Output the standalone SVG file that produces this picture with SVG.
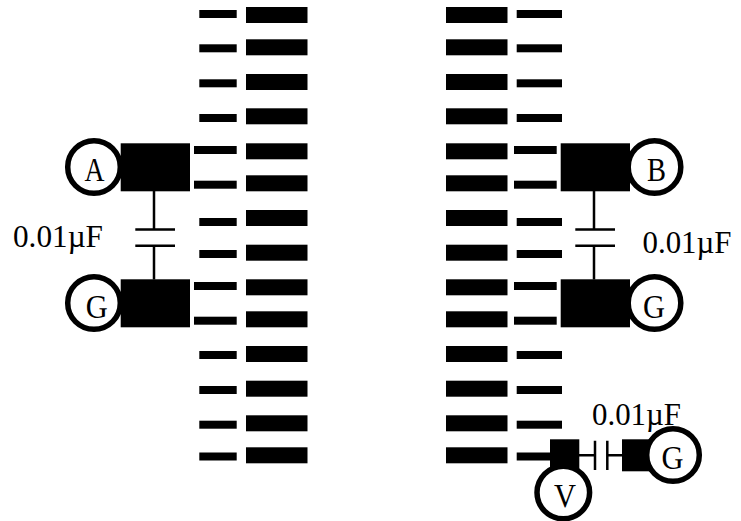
<svg xmlns="http://www.w3.org/2000/svg" width="741" height="521" viewBox="0 0 741 521">
<style>
.p{fill:#000}
.c{fill:#fff;stroke:#000;stroke-width:5.5}
.w{stroke:#000;stroke-width:2.5;fill:none}
.t{font-family:"Liberation Serif",serif;font-size:32.5px;fill:#000}
.l{text-anchor:middle;font-size:34px}
</style>
<rect width="741" height="521" fill="#fff"/>
<g id="left-big-pads" class="p">
<rect x="246" y="7" width="61.5" height="16"/><rect x="246" y="39.3" width="61.5" height="16"/><rect x="246" y="74" width="61.5" height="16"/><rect x="246" y="108.3" width="61.5" height="16"/><rect x="246" y="143.3" width="61.5" height="16"/><rect x="246" y="175.3" width="61.5" height="16"/><rect x="246" y="210" width="61.5" height="16"/><rect x="246" y="244.7" width="61.5" height="16"/><rect x="246" y="279.3" width="61.5" height="16"/><rect x="246" y="311.3" width="61.5" height="16"/><rect x="246" y="346" width="61.5" height="16"/><rect x="246" y="380.7" width="61.5" height="16"/><rect x="246" y="415.3" width="61.5" height="16"/><rect x="246" y="447.3" width="61.5" height="16"/>
</g>
<g id="left-small-pads" class="p">
<rect x="199.3" y="10" width="37.4" height="8"/><rect x="199.3" y="44.3" width="37.4" height="8"/><rect x="199.3" y="79.3" width="37.4" height="8"/><rect x="199.3" y="114" width="37.4" height="8"/><rect x="194" y="146" width="42.7" height="8"/><rect x="194" y="180.7" width="42.7" height="8"/><rect x="199.3" y="218" width="37.4" height="8"/><rect x="199.3" y="250" width="37.4" height="8"/><rect x="194" y="282" width="42.7" height="8"/><rect x="194" y="316.7" width="42.7" height="8"/><rect x="199.3" y="351" width="37.4" height="8"/><rect x="199.3" y="386" width="37.4" height="8"/><rect x="199.3" y="420.7" width="37.4" height="8"/><rect x="199.3" y="452.5" width="37.4" height="8"/>
</g>
<g id="right-big-pads" class="p">
<rect x="446" y="7" width="61.5" height="16"/><rect x="446" y="39.3" width="61.5" height="16"/><rect x="446" y="74" width="61.5" height="16"/><rect x="446" y="108.3" width="61.5" height="16"/><rect x="446" y="143.3" width="61.5" height="16"/><rect x="446" y="175.3" width="61.5" height="16"/><rect x="446" y="210" width="61.5" height="16"/><rect x="446" y="244.7" width="61.5" height="16"/><rect x="446" y="279.3" width="61.5" height="16"/><rect x="446" y="311.3" width="61.5" height="16"/><rect x="446" y="346" width="61.5" height="16"/><rect x="446" y="380.7" width="61.5" height="16"/><rect x="446" y="415.3" width="61.5" height="16"/><rect x="446" y="447.3" width="61.5" height="16"/>
</g>
<g id="right-small-pads" class="p">
<rect x="516.7" y="10" width="45.3" height="8"/><rect x="516.7" y="44.3" width="45.3" height="8"/><rect x="516.7" y="79.3" width="45.3" height="8"/><rect x="516.7" y="114" width="45.3" height="8"/><rect x="514" y="146" width="42.7" height="8"/><rect x="514" y="180.7" width="42.7" height="8"/><rect x="516.7" y="218" width="45.3" height="8"/><rect x="516.7" y="250" width="45.3" height="8"/><rect x="514" y="282" width="42.7" height="8"/><rect x="514" y="316.7" width="42.7" height="8"/><rect x="516.7" y="351" width="45.3" height="8"/><rect x="516.7" y="386" width="45.3" height="8"/><rect x="516.7" y="420.7" width="45.3" height="8"/><rect x="516.7" y="452.5" width="36" height="8"/>
</g>
<g id="connectors" class="w">
<path d="M154 191V229.5M135.3 229.5H175M135.3 245.7H175M154 245.7V279.5"/>
<path d="M594 191V229.5M575.3 229.5H615M575.3 245.7H615M594 245.7V279.5"/>
<path d="M579 455.3H595M595 440.7V470M607.3 440.7V470M607.3 455.3H622"/>
</g>
<g id="labels-cap" class="t">
<text x="13" y="246.5" textLength="90" lengthAdjust="spacingAndGlyphs">0.01µF</text>
<text x="642.5" y="252.5" textLength="89" lengthAdjust="spacingAndGlyphs">0.01µF</text>
<text x="592" y="425" textLength="89" lengthAdjust="spacingAndGlyphs">0.01µF</text>
</g>
<g id="node-A"><rect class="p" x="120.7" y="143.3" width="69.3" height="48"/><circle class="c" cx="94" cy="167" r="26.3"/><text class="t l" x="94.5" y="181" textLength="20" lengthAdjust="spacingAndGlyphs">A</text></g>
<g id="node-G1"><rect class="p" x="120.7" y="279.3" width="69.3" height="48"/><circle class="c" cx="94" cy="303" r="26.3"/><text class="t l" x="96.8" y="317.5" textLength="22" lengthAdjust="spacingAndGlyphs">G</text></g>
<g id="node-B"><rect class="p" x="560.7" y="143.3" width="69.3" height="48"/><circle class="c" cx="654.5" cy="167" r="26.3"/><text class="t l" x="656.5" y="181" textLength="19" lengthAdjust="spacingAndGlyphs">B</text></g>
<g id="node-G2"><rect class="p" x="560.7" y="279.3" width="69.3" height="48"/><circle class="c" cx="654.5" cy="303" r="26.3"/><text class="t l" x="654" y="317.5" textLength="22" lengthAdjust="spacingAndGlyphs">G</text></g>
<g id="node-V"><rect class="p" x="550" y="439.3" width="29.3" height="32"/><circle class="c" cx="563.3" cy="492.5" r="26.3"/><text class="t l" x="565" y="506.7" textLength="22" lengthAdjust="spacingAndGlyphs">V</text></g>
<g id="node-G3"><rect class="p" x="622" y="439.3" width="30" height="32"/><circle class="c" cx="673" cy="455" r="26.3"/><text class="t l" x="672.5" y="468.5" textLength="22" lengthAdjust="spacingAndGlyphs">G</text></g>
</svg>
